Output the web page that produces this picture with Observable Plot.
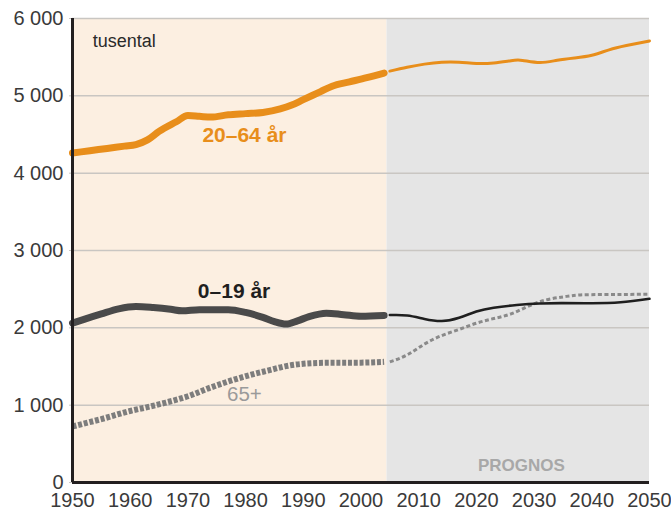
<!DOCTYPE html>
<html>
<head>
<meta charset="utf-8">
<script src="https://cdn.jsdelivr.net/npm/d3@7"></script>
<script src="https://cdn.jsdelivr.net/npm/@observablehq/plot@0.6"></script>
<style>
  html, body { margin: 0; padding: 0; background: #ffffff; }
  #chart { width: 671px; height: 511px; }
</style>
</head>
<body>
<div id="chart"></div>
<script>
// ---- data (thousands of persons) ----
const histYears20 = [1950,1953,1956,1959,1961,1963,1965,1968,1970,1972,1974,1977,1980,1983,1986,1988,1990,1993,1995,1998,2001,2004];
const histVals20  = [4260,4290,4320,4350,4370,4430,4540,4665,4745,4735,4725,4755,4770,4785,4830,4880,4950,5055,5125,5180,5235,5295];
const progYears20 = [2005,2008,2011,2014,2017,2020,2023,2026,2028,2031,2034,2037,2040,2043,2046,2050];
const progVals20  = [5320,5370,5410,5435,5435,5418,5425,5455,5458,5430,5460,5490,5525,5595,5650,5710];

const histYears0 = [1950,1952,1955,1958,1961,1964,1967,1969,1972,1977,1980,1983,1985,1987,1989,1991,1994,1997,2000,2004];
const histVals0  = [2060,2110,2180,2245,2275,2262,2240,2220,2235,2235,2200,2135,2080,2048,2090,2145,2190,2170,2150,2160];
const progYears0 = [2005,2008,2011,2014,2017,2020,2023,2027,2031,2035,2040,2045,2050];
const progVals0  = [2165,2160,2115,2088,2130,2210,2260,2295,2315,2320,2318,2330,2375];

const histYears65 = [1950,1955,1960,1963,1966,1970,1974,1978,1981,1984,1987,1990,1994,2000,2004];
const histVals65  = [725,820,925,975,1030,1115,1230,1330,1395,1450,1505,1535,1548,1550,1560];
const progYears65 = [2005,2008,2011,2014,2017,2020,2023,2026,2029,2032,2035,2038,2042,2046,2050];
const progVals65  = [1560,1650,1790,1900,1980,2060,2120,2180,2280,2360,2400,2425,2430,2432,2435];

const periodNames = ["historik", "prognos"];
const periodStart = [1950, 2004.5];
const periodEnd   = [2004.5, 2050];

const yTicks = [0, 1000, 2000, 3000, 4000, 5000, 6000];
const xTicks = [1950, 1960, 1970, 1980, 1990, 2000, 2010, 2020, 2030, 2040, 2050];

const labelTexts  = ["tusental", "20–64 år", "0–19 år", "65+", "PROGNOS"];
const labelYears  = [1953.5, 1979.8, 1978, 1979.8, 2027.8];
const labelValues = [5710, 4494, 2476, 1144, 215];

// ---- build tables ----
const toRows = (ys, vs) => ys.map((y, i) => ({year: y, value: vs[i]}));
const h20 = toRows(histYears20, histVals20), p20 = toRows(progYears20, progVals20);
const h0 = toRows(histYears0, histVals0),   p0 = toRows(progYears0, progVals0);
const h65 = toRows(histYears65, histVals65), p65 = toRows(progYears65, progVals65);
const periods = periodNames.map((n, i) => ({name: n, x1: periodStart[i], x2: periodEnd[i]}));
const labels = labelTexts.map((t, i) => ({text: t, year: labelYears[i], value: labelValues[i]}));

const ORANGE = "#e88e1b";
const fmt = d => d === 0 ? "0" : d3.format(",")(d).replace(/,/g, " ");

const chart = Plot.plot({
  width: 671,
  height: 511,
  marginLeft: 72,
  marginRight: 22,
  marginTop: 18,
  marginBottom: 29,
  style: {fontFamily: "'Liberation Sans', Arial, sans-serif", background: "#ffffff", color: "#3a3a3a"},
  x: {domain: [1950, 2050]},
  y: {domain: [0, 6000]},
  marks: [
    Plot.rect(periods, {x1: "x1", x2: "x2", y1: 0, y2: 6000, fill: d => d.name === "historik" ? "#fcefe1" : "#e5e5e5"}),
    Plot.ruleY(yTicks.filter(d => d > 0), {stroke: "#c9c6c2", strokeWidth: 1.5}),
    // lines
    Plot.line(h65, {x: "year", y: "value", stroke: "#7d7d7d", strokeWidth: 6, strokeDasharray: "4,1.8", strokeLinecap: "butt", curve: "monotone-x"}),
    Plot.line(p65, {x: "year", y: "value", stroke: "#8a8a8a", strokeWidth: 3, strokeDasharray: "4,2.5", strokeLinecap: "butt", curve: "natural"}),
    Plot.line(h0, {x: "year", y: "value", stroke: "#4a4a4a", strokeWidth: 7, curve: "monotone-x"}),
    Plot.line(p0, {x: "year", y: "value", stroke: "#1f1f1f", strokeWidth: 2.6, curve: "natural"}),
    Plot.line(h20, {x: "year", y: "value", stroke: ORANGE, strokeWidth: 7, curve: "monotone-x"}),
    Plot.line(p20, {x: "year", y: "value", stroke: ORANGE, strokeWidth: 3, curve: "natural"}),
    // labels
    Plot.text(labels.filter(d => d.text === "tusental"), {x: "year", y: "value", text: "text", textAnchor: "start", fontSize: 18, fill: "#2a2a2a"}),
    Plot.text(labels.filter(d => d.text === "20–64 år"), {x: "year", y: "value", text: "text", fontSize: 21, fontWeight: "bold", fill: ORANGE}),
    Plot.text(labels.filter(d => d.text === "0–19 år"), {x: "year", y: "value", text: "text", fontSize: 21, fontWeight: "bold", fill: "#1f1f1f"}),
    Plot.text(labels.filter(d => d.text === "65+"), {x: "year", y: "value", text: "text", fontSize: 20.5, fill: "#9a9a9a"}),
    Plot.text(labels.filter(d => d.text === "PROGNOS"), {x: "year", y: "value", text: "text", fontSize: 17, fontWeight: "bold", fill: "#a8a8a8"}),
    // axes
    Plot.axisY({ticks: yTicks, tickFormat: fmt, tickSize: 3, tickPadding: 6, stroke: "#c9c6c2", fontSize: 20, fill: "#3a3a3a", label: null}),
    Plot.axisX({ticks: xTicks, tickFormat: d => String(d), tickSize: 0, tickPadding: 10, fontSize: 20, fill: "#3a3a3a", label: null}),
    Plot.ruleY([0], {stroke: "#231f20", strokeWidth: 3}),
    Plot.ruleX([1950], {stroke: "#231f20", strokeWidth: 3})
  ]
});
document.getElementById("chart").appendChild(chart);
</script>
</body>
</html>
